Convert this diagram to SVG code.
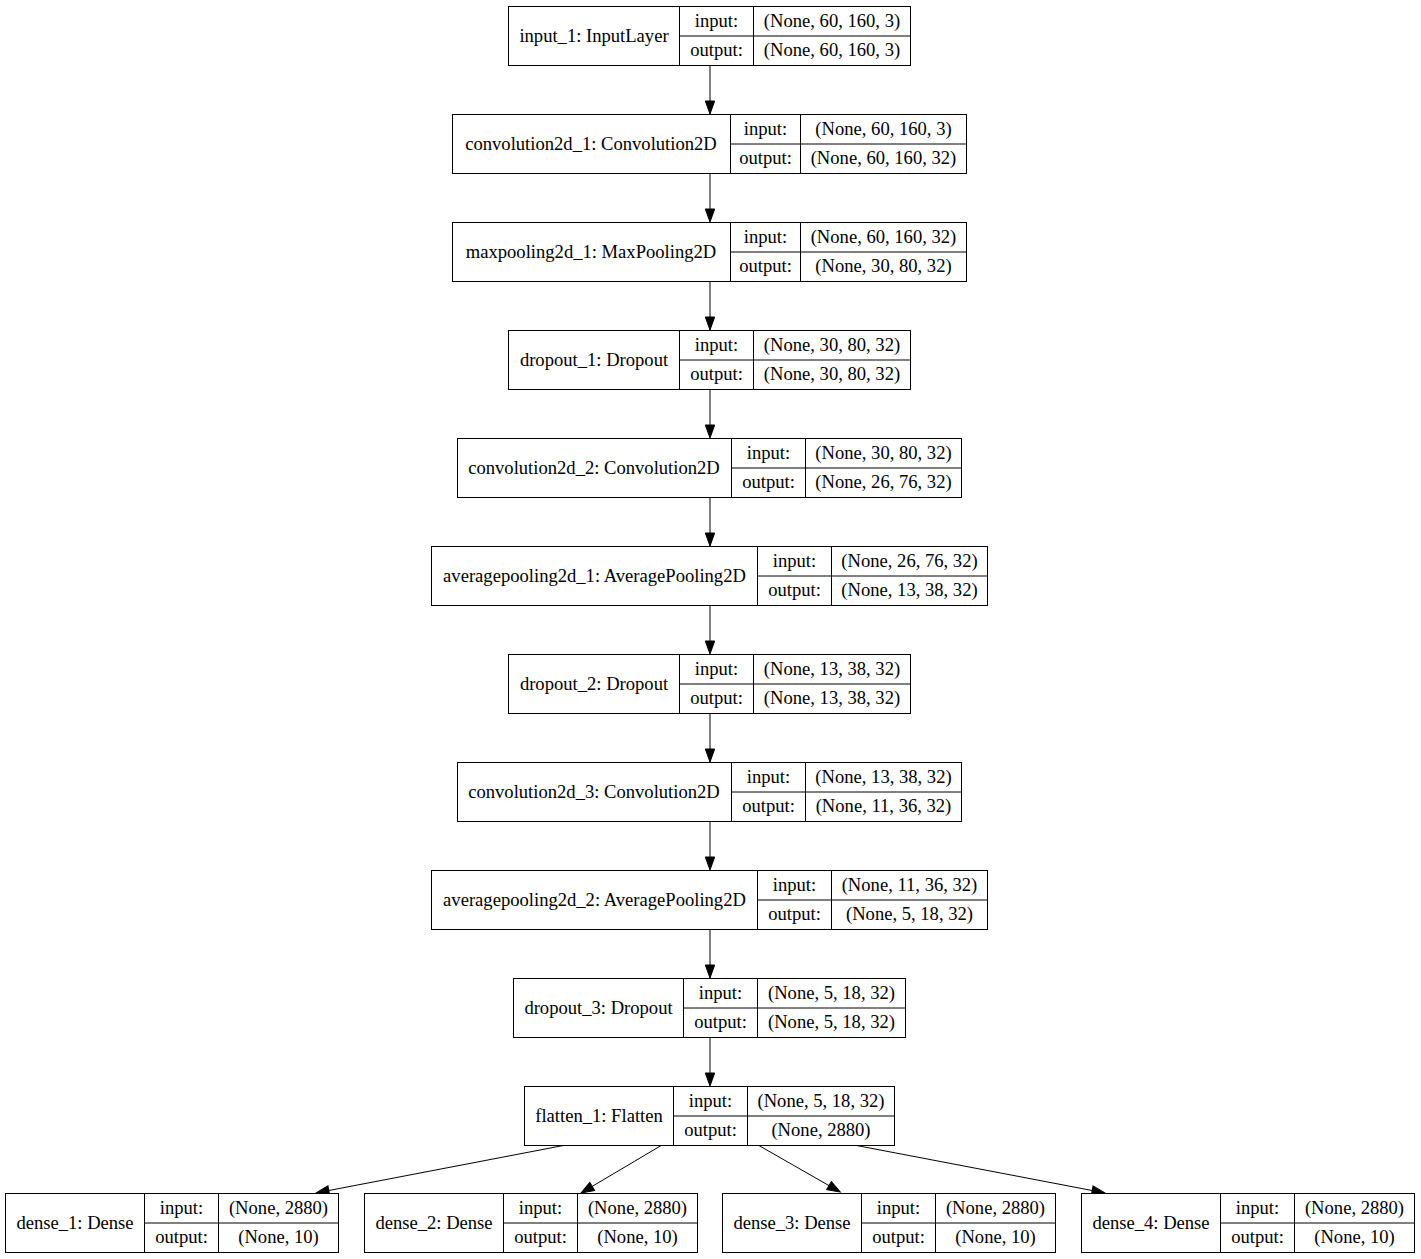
<svg xmlns="http://www.w3.org/2000/svg" width="1421" height="1259" viewBox="0 0 1421 1259">
<style>
rect.n,line.d{fill:#fff;stroke:#000;stroke-width:1}
line.d{fill:none}
text{font-family:"Liberation Serif","Times New Roman",serif;font-size:18.6px;text-anchor:middle;fill:#000}
.e{stroke:#000;stroke-width:1;fill:none;marker-end:url(#ah)}
</style>
<defs>
<marker id="ah" markerUnits="userSpaceOnUse" markerWidth="14" markerHeight="12" refX="0" refY="5" orient="auto" viewBox="0 0 14 10" overflow="visible">
<path d="M0,0.3 L13,5 L0,9.7 z" fill="#000" stroke="#000" stroke-width="1"/>
</marker>
</defs>
<rect width="1421" height="1259" fill="#fff"/>
<g id="connectors">
<path class="e" d="M710,65 V101"/>
<path class="e" d="M710,173 V209"/>
<path class="e" d="M710,281 V317"/>
<path class="e" d="M710,389 V425"/>
<path class="e" d="M710,497 V533"/>
<path class="e" d="M710,605 V641"/>
<path class="e" d="M710,713 V749"/>
<path class="e" d="M710,821 V857"/>
<path class="e" d="M710,929 V965"/>
<path class="e" d="M710,1037 V1073"/>
<path class="e" d="M566,1145 L328.8,1190.5"/>
<path class="e" d="M662,1145 L592.2,1186.4"/>
<path class="e" d="M758,1145 L829,1185.6"/>
<path class="e" d="M854,1145 L1092.2,1190.5"/>
</g>
<g id="input_1">
<rect class="n" x="508.5" y="6.5" width="402" height="59"/>
<line class="d" x1="679.5" y1="6.5" x2="679.5" y2="65.5"/><line class="d" x1="753.5" y1="6.5" x2="753.5" y2="65.5"/><line class="d" x1="679.5" y1="36" x2="910.5" y2="36"/>
<text x="594" y="41.5">input_1: InputLayer</text>
<text x="716.5" y="27">input:</text><text x="716.5" y="56">output:</text>
<text x="832" y="27">(None, 60, 160, 3)</text><text x="832" y="56">(None, 60, 160, 3)</text>
</g>
<g id="convolution2d_1">
<rect class="n" x="452.5" y="114.5" width="514" height="59"/>
<line class="d" x1="730.5" y1="114.5" x2="730.5" y2="173.5"/><line class="d" x1="800.5" y1="114.5" x2="800.5" y2="173.5"/><line class="d" x1="730.5" y1="144" x2="966.5" y2="144"/>
<text x="591" y="149.5">convolution2d_1: Convolution2D</text>
<text x="765.5" y="135">input:</text><text x="765.5" y="164">output:</text>
<text x="883.5" y="135">(None, 60, 160, 3)</text><text x="883.5" y="164">(None, 60, 160, 32)</text>
</g>
<g id="maxpooling2d_1">
<rect class="n" x="452.5" y="222.5" width="514" height="59"/>
<line class="d" x1="730.5" y1="222.5" x2="730.5" y2="281.5"/><line class="d" x1="800.5" y1="222.5" x2="800.5" y2="281.5"/><line class="d" x1="730.5" y1="252" x2="966.5" y2="252"/>
<text x="591" y="257.5">maxpooling2d_1: MaxPooling2D</text>
<text x="765.5" y="243">input:</text><text x="765.5" y="272">output:</text>
<text x="883.5" y="243">(None, 60, 160, 32)</text><text x="883.5" y="272">(None, 30, 80, 32)</text>
</g>
<g id="dropout_1">
<rect class="n" x="508.5" y="330.5" width="402" height="59"/>
<line class="d" x1="679.5" y1="330.5" x2="679.5" y2="389.5"/><line class="d" x1="753.5" y1="330.5" x2="753.5" y2="389.5"/><line class="d" x1="679.5" y1="360" x2="910.5" y2="360"/>
<text x="594" y="365.5">dropout_1: Dropout</text>
<text x="716.5" y="351">input:</text><text x="716.5" y="380">output:</text>
<text x="832" y="351">(None, 30, 80, 32)</text><text x="832" y="380">(None, 30, 80, 32)</text>
</g>
<g id="convolution2d_2">
<rect class="n" x="457.5" y="438.5" width="504" height="59"/>
<line class="d" x1="731.5" y1="438.5" x2="731.5" y2="497.5"/><line class="d" x1="805.5" y1="438.5" x2="805.5" y2="497.5"/><line class="d" x1="731.5" y1="468" x2="961.5" y2="468"/>
<text x="594" y="473.5">convolution2d_2: Convolution2D</text>
<text x="768.5" y="459">input:</text><text x="768.5" y="488">output:</text>
<text x="883.5" y="459">(None, 30, 80, 32)</text><text x="883.5" y="488">(None, 26, 76, 32)</text>
</g>
<g id="averagepooling2d_1">
<rect class="n" x="431.5" y="546.5" width="556" height="59"/>
<line class="d" x1="757.5" y1="546.5" x2="757.5" y2="605.5"/><line class="d" x1="831.5" y1="546.5" x2="831.5" y2="605.5"/><line class="d" x1="757.5" y1="576" x2="987.5" y2="576"/>
<text x="594.5" y="581.5">averagepooling2d_1: AveragePooling2D</text>
<text x="794.5" y="567">input:</text><text x="794.5" y="596">output:</text>
<text x="909.5" y="567">(None, 26, 76, 32)</text><text x="909.5" y="596">(None, 13, 38, 32)</text>
</g>
<g id="dropout_2">
<rect class="n" x="508.5" y="654.5" width="402" height="59"/>
<line class="d" x1="679.5" y1="654.5" x2="679.5" y2="713.5"/><line class="d" x1="753.5" y1="654.5" x2="753.5" y2="713.5"/><line class="d" x1="679.5" y1="684" x2="910.5" y2="684"/>
<text x="594" y="689.5">dropout_2: Dropout</text>
<text x="716.5" y="675">input:</text><text x="716.5" y="704">output:</text>
<text x="832" y="675">(None, 13, 38, 32)</text><text x="832" y="704">(None, 13, 38, 32)</text>
</g>
<g id="convolution2d_3">
<rect class="n" x="457.5" y="762.5" width="504" height="59"/>
<line class="d" x1="731.5" y1="762.5" x2="731.5" y2="821.5"/><line class="d" x1="805.5" y1="762.5" x2="805.5" y2="821.5"/><line class="d" x1="731.5" y1="792" x2="961.5" y2="792"/>
<text x="594" y="797.5">convolution2d_3: Convolution2D</text>
<text x="768.5" y="783">input:</text><text x="768.5" y="812">output:</text>
<text x="883.5" y="783">(None, 13, 38, 32)</text><text x="883.5" y="812">(None, 11, 36, 32)</text>
</g>
<g id="averagepooling2d_2">
<rect class="n" x="431.5" y="870.5" width="556" height="59"/>
<line class="d" x1="757.5" y1="870.5" x2="757.5" y2="929.5"/><line class="d" x1="831.5" y1="870.5" x2="831.5" y2="929.5"/><line class="d" x1="757.5" y1="900" x2="987.5" y2="900"/>
<text x="594.5" y="905.5">averagepooling2d_2: AveragePooling2D</text>
<text x="794.5" y="891">input:</text><text x="794.5" y="920">output:</text>
<text x="909.5" y="891">(None, 11, 36, 32)</text><text x="909.5" y="920">(None, 5, 18, 32)</text>
</g>
<g id="dropout_3">
<rect class="n" x="513.5" y="978.5" width="392" height="59"/>
<line class="d" x1="683.5" y1="978.5" x2="683.5" y2="1037.5"/><line class="d" x1="757.5" y1="978.5" x2="757.5" y2="1037.5"/><line class="d" x1="683.5" y1="1008" x2="905.5" y2="1008"/>
<text x="598.5" y="1013.5">dropout_3: Dropout</text>
<text x="720.5" y="999">input:</text><text x="720.5" y="1028">output:</text>
<text x="831.5" y="999">(None, 5, 18, 32)</text><text x="831.5" y="1028">(None, 5, 18, 32)</text>
</g>
<g id="flatten_1">
<rect class="n" x="524.5" y="1086.5" width="370" height="59"/>
<line class="d" x1="673.5" y1="1086.5" x2="673.5" y2="1145.5"/><line class="d" x1="747.5" y1="1086.5" x2="747.5" y2="1145.5"/><line class="d" x1="673.5" y1="1116" x2="894.5" y2="1116"/>
<text x="599" y="1121.5">flatten_1: Flatten</text>
<text x="710.5" y="1107">input:</text><text x="710.5" y="1136">output:</text>
<text x="821" y="1107">(None, 5, 18, 32)</text><text x="821" y="1136">(None, 2880)</text>
</g>
<g id="dense_1">
<rect class="n" x="5.5" y="1193.5" width="333" height="59"/>
<line class="d" x1="144.5" y1="1193.5" x2="144.5" y2="1252.5"/><line class="d" x1="218.5" y1="1193.5" x2="218.5" y2="1252.5"/><line class="d" x1="144.5" y1="1223" x2="338.5" y2="1223"/>
<text x="75" y="1228.5">dense_1: Dense</text>
<text x="181.5" y="1214">input:</text><text x="181.5" y="1243">output:</text>
<text x="278.5" y="1214">(None, 2880)</text><text x="278.5" y="1243">(None, 10)</text>
</g>
<g id="dense_2">
<rect class="n" x="364.5" y="1193.5" width="333" height="59"/>
<line class="d" x1="503.5" y1="1193.5" x2="503.5" y2="1252.5"/><line class="d" x1="577.5" y1="1193.5" x2="577.5" y2="1252.5"/><line class="d" x1="503.5" y1="1223" x2="697.5" y2="1223"/>
<text x="434" y="1228.5">dense_2: Dense</text>
<text x="540.5" y="1214">input:</text><text x="540.5" y="1243">output:</text>
<text x="637.5" y="1214">(None, 2880)</text><text x="637.5" y="1243">(None, 10)</text>
</g>
<g id="dense_3">
<rect class="n" x="722.5" y="1193.5" width="333" height="59"/>
<line class="d" x1="861.5" y1="1193.5" x2="861.5" y2="1252.5"/><line class="d" x1="935.5" y1="1193.5" x2="935.5" y2="1252.5"/><line class="d" x1="861.5" y1="1223" x2="1055.5" y2="1223"/>
<text x="792" y="1228.5">dense_3: Dense</text>
<text x="898.5" y="1214">input:</text><text x="898.5" y="1243">output:</text>
<text x="995.5" y="1214">(None, 2880)</text><text x="995.5" y="1243">(None, 10)</text>
</g>
<g id="dense_4">
<rect class="n" x="1081.5" y="1193.5" width="333" height="59"/>
<line class="d" x1="1220.5" y1="1193.5" x2="1220.5" y2="1252.5"/><line class="d" x1="1294.5" y1="1193.5" x2="1294.5" y2="1252.5"/><line class="d" x1="1220.5" y1="1223" x2="1414.5" y2="1223"/>
<text x="1151" y="1228.5">dense_4: Dense</text>
<text x="1257.5" y="1214">input:</text><text x="1257.5" y="1243">output:</text>
<text x="1354.5" y="1214">(None, 2880)</text><text x="1354.5" y="1243">(None, 10)</text>
</g>
</svg>
